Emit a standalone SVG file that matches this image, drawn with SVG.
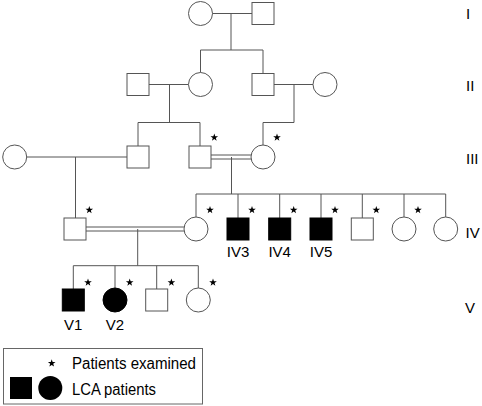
<svg xmlns="http://www.w3.org/2000/svg" width="482" height="406" viewBox="0 0 482 406">
<style>
.l{stroke:#555;stroke-width:1;fill:none}
.o{stroke:#555;stroke-width:1;fill:#fff}
.f{stroke:#000;stroke-width:1;fill:#000}
.t{font-family:"Liberation Sans",Arial,sans-serif;font-size:15px;fill:#000}
.lg{font-family:"Liberation Sans",Arial,sans-serif;font-size:16px;fill:#000}
.s{fill:#000}
</style>
<defs>
<path id="star" d="M0,-4 L0.94,-1.29 L3.8,-1.24 L1.52,0.49 L2.35,3.24 L0,1.6 L-2.35,3.24 L-1.52,0.49 L-3.8,-1.24 L-0.94,-1.29 Z"/>
</defs>
<rect width="482" height="406" fill="#fff"/>
<g id="connectors" class="l">
<!-- gen I -->
<path d="M212,13.5H252M231,13.5V50M200.5,50H263M200.5,50V72.5M263,50V73.5"/>
<!-- gen II left -->
<path d="M149,84.5H188.5M169.5,84.5V122.5M138,122.5H200M138,122.5V146M200,122.5V146"/>
<!-- gen II right -->
<path d="M274,84.5H313M294,84.5V122.5H263V145"/>
<!-- gen III left -->
<path d="M26.7,157H127M75.5,157V218"/>
<!-- gen III right double -->
<path d="M211,155H251M211,159H251M231.5,157V194M196,194H445.7"/>
<path d="M196,194V217M238,194V218M279.7,194V218M321,194V218M362.3,194V218M404,194V217M445.7,194V217"/>
<!-- gen IV double -->
<path d="M86,227H184M86,231H184M137.7,229V265.7M73.3,265.7H198.3"/>
<path d="M73.3,265.7V289M115,265.7V288M156.7,265.7V289M198.3,265.7V288"/>
</g>
<g id="I-1"><circle class="o" cx="200.5" cy="13.5" r="12"/></g>
<g id="I-2"><rect class="o" x="252" y="2.5" width="22" height="22"/></g>
<g id="II-1"><rect class="o" x="127" y="73.5" width="22" height="22"/></g>
<g id="II-2"><circle class="o" cx="200.5" cy="84.5" r="12"/></g>
<g id="II-3"><rect class="o" x="252" y="73.5" width="22" height="22"/></g>
<g id="II-4"><circle class="o" cx="325" cy="84.5" r="12"/></g>
<g id="III-1"><circle class="o" cx="14.7" cy="157" r="12"/></g>
<g id="III-2"><rect class="o" x="127" y="146" width="22" height="22"/></g>
<g id="III-3"><rect class="o" x="189" y="146" width="22" height="22"/><use href="#star" x="214.3" y="137.5"/></g>
<g id="III-4"><circle class="o" cx="263" cy="157" r="12"/><use href="#star" x="277" y="137.5"/></g>
<g id="IV-0"><rect class="o" x="64" y="218" width="22" height="22"/><use href="#star" x="89.3" y="210"/></g>
<g id="IV-1"><circle class="o" cx="196" cy="229" r="12"/><use href="#star" x="210" y="210"/></g>
<g id="IV-3"><rect class="f" x="227" y="218" width="22" height="22"/><use href="#star" x="252" y="210"/><text class="t" x="238" y="257" text-anchor="middle">IV3</text></g>
<g id="IV-4"><rect class="f" x="268.7" y="218" width="22" height="22"/><use href="#star" x="293.7" y="210"/><text class="t" x="279.7" y="257" text-anchor="middle">IV4</text></g>
<g id="IV-5"><rect class="f" x="310" y="218" width="22" height="22"/><use href="#star" x="335" y="210"/><text class="t" x="321" y="257" text-anchor="middle">IV5</text></g>
<g id="IV-6"><rect class="o" x="351.3" y="218" width="22" height="22"/><use href="#star" x="376.3" y="210"/></g>
<g id="IV-7"><circle class="o" cx="404" cy="229" r="12"/><use href="#star" x="418" y="210"/></g>
<g id="IV-8"><circle class="o" cx="445.7" cy="229" r="12"/></g>
<g id="V-1"><rect class="f" x="62.3" y="289" width="22" height="22"/><use href="#star" x="88" y="282.5"/><text class="t" x="73.3" y="330" text-anchor="middle">V1</text></g>
<g id="V-2"><circle class="f" cx="115" cy="300" r="12"/><use href="#star" x="129.7" y="282.5"/><text class="t" x="115" y="330" text-anchor="middle">V2</text></g>
<g id="V-3"><rect class="o" x="145.7" y="289" width="22" height="22"/><use href="#star" x="171.4" y="282.5"/></g>
<g id="V-4"><circle class="o" cx="198.3" cy="300" r="12"/><use href="#star" x="213" y="282.5"/></g>
<g id="generations">
<text class="t" x="466" y="19">I</text>
<text class="t" x="466" y="91">II</text>
<text class="t" x="466" y="164">III</text>
<text class="t" x="465.5" y="238">IV</text>
<text class="t" x="465" y="313">V</text>
</g>
<g id="legend">
<rect x="3.5" y="348.5" width="199" height="55.5" fill="none" stroke="#666" stroke-width="1"/>
<use href="#star" x="51.7" y="363.3"/>
<text class="lg" x="72" y="369" textLength="124" lengthAdjust="spacingAndGlyphs">Patients examined</text>
<rect x="10" y="377" width="22" height="22" fill="#000"/>
<circle cx="50.3" cy="388" r="12" fill="#000"/>
<text class="lg" x="72" y="395" textLength="84" lengthAdjust="spacingAndGlyphs">LCA patients</text>
</g>
</svg>
